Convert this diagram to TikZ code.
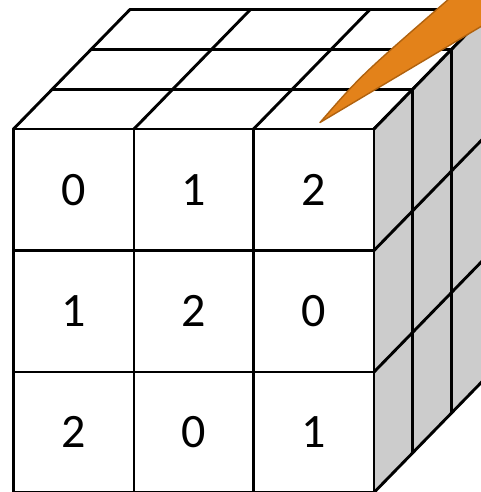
\documentclass[tikz,border=0pt]{standalone}
\usepackage{fontspec}
\setmainfont{Carlito}
\definecolor{sidegray}{HTML}{CCCCCC}
\definecolor{wedgeorange}{HTML}{E3821A}
\definecolor{wedgeedge}{HTML}{B0620F}
\tikzset{
  edge/.style={line width=2.9pt, line join=round, line cap=round},
  num/.style={font=\fontsize{48}{48}\selectfont, inner sep=0pt},
}
\begin{document}
\begin{tikzpicture}[x=1pt,y=-1pt]
\useasboundingbox (0,0) rectangle (481,492);
\clip (0,0) rectangle (481,492);
\def\dx{38.7}
\def\dy{-39.7}
% front column and row positions
\def\Xa{13.5}\def\Xb{134}\def\Xc{253.5}\def\Xd{374}
\def\Ya{129}\def\Yb{250.5}\def\Yc{372}\def\Yd{492.5}
% top face
\fill[white] (\Xa,\Ya) -- (\Xd,\Ya) -- ({\Xd+3*\dx},{\Ya+3*\dy}) -- ({\Xa+3*\dx},{\Ya+3*\dy}) -- cycle;
\foreach \k in {0,1,2,3}{
  \draw[edge] ({\Xa+\k*\dx},{\Ya+\k*\dy}) -- ({\Xd+\k*\dx},{\Ya+\k*\dy});
}
\foreach \x in {\Xa,\Xb,\Xc,\Xd}{
  \draw[edge] (\x,\Ya) -- ({\x+3*\dx},{\Ya+3*\dy});
}
% right face
\fill[sidegray] (\Xd,\Ya) -- ({\Xd+3*\dx},{\Ya+3*\dy}) -- ({\Xd+3*\dx},{\Yd+3*\dy}) -- (\Xd,\Yd) -- cycle;
\foreach \k in {0,1,2,3}{
  \draw[edge] ({\Xd+\k*\dx},{\Ya+\k*\dy}) -- ({\Xd+\k*\dx},{\Yd+\k*\dy});
}
\foreach \y in {\Ya,\Yb,\Yc,\Yd}{
  \draw[edge] (\Xd,\y) -- ({\Xd+3*\dx},{\y+3*\dy});
}
% front face
\fill[white] (\Xa,\Ya) rectangle (\Xd,\Yd);
\foreach \x in {\Xa,\Xb,\Xc,\Xd}{
  \draw[edge] (\x,\Ya) -- (\x,\Yd);
}
\foreach \y in {\Ya,\Yb,\Yc,\Yd}{
  \draw[edge] (\Xa,\y) -- (\Xd,\y);
}
% numbers
\node[num] (n00) at ({(\Xa+\Xb)/2},{(\Ya+\Yb)/2}) {0};
\node[num] (n01) at ({(\Xb+\Xc)/2},{(\Ya+\Yb)/2}) {1};
\node[num] (n02) at ({(\Xc+\Xd)/2},{(\Ya+\Yb)/2}) {2};
\node[num] (n10) at ({(\Xa+\Xb)/2},{(\Yb+\Yc)/2}) {1};
\node[num] (n11) at ({(\Xb+\Xc)/2},{(\Yb+\Yc)/2}) {2};
\node[num] (n12) at ({(\Xc+\Xd)/2},{(\Yb+\Yc)/2}) {0};
\node[num] (n20) at ({(\Xa+\Xb)/2},{(\Yc+\Yd)/2}) {2};
\node[num] (n21) at ({(\Xb+\Xc)/2},{(\Yc+\Yd)/2}) {0};
\node[num] (n22) at ({(\Xc+\Xd)/2},{(\Yc+\Yd)/2}) {1};
% orange wedge
\filldraw[fill=wedgeorange, draw=wedgeedge, line width=1.4pt, line join=round]
  (320,122.5) -- (481,26.5) -- (520,3) -- (520,-25) -- (476.4,-25)
  -- (447.7,0) .. controls (360.7,75.7) .. cycle;
\end{tikzpicture}
\end{document}
